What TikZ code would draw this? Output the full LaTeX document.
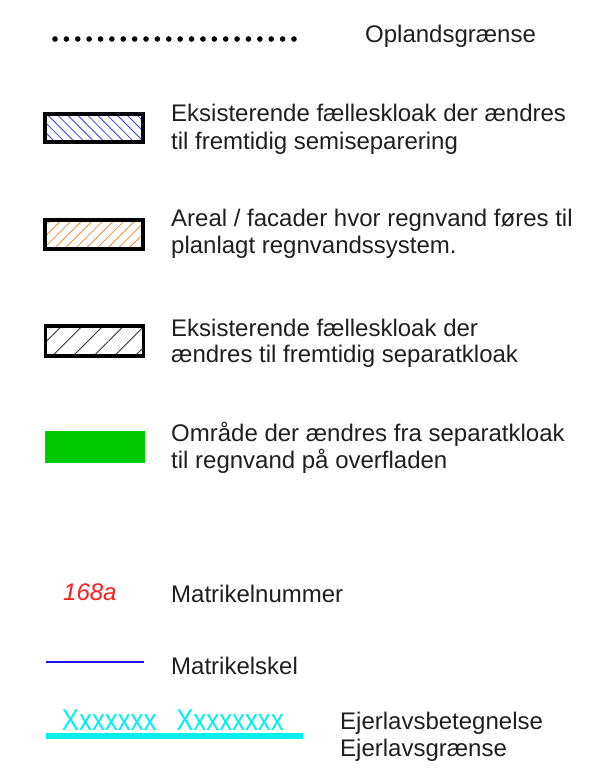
\documentclass[tikz,border=0pt]{standalone}
\usepackage{fontspec}
\setmainfont{Liberation Sans}
\usetikzlibrary{patterns.meta}
\definecolor{hatchblue}{RGB}{60,60,230}
\definecolor{hatchorange}{RGB}{245,140,50}
\definecolor{areagreen}{RGB}{0,204,0}
\definecolor{ejercyan}{RGB}{0,240,240}
\definecolor{numred}{RGB}{250,30,30}
\definecolor{matblue}{RGB}{25,25,235}
\begin{document}
\begin{tikzpicture}[x=1pt,y=-1pt,
  legtext/.style={anchor=base west,inner sep=0pt,font=\fontsize{24}{28}\selectfont,text=black!88},
  legbox/.style={draw=black,line width=4pt},
]
\useasboundingbox[fill=white] (0,0) rectangle (594,780);
% dotted line
\foreach \i in {0,...,21}{
  \fill (55+\i*11.38,39) circle (2.8);
}
\node[legtext] (t0) at (365,42) {Oplandsgrænse};
% box 1
\path[pattern={Lines[angle=-45,distance=7pt,line width=0.8pt]},pattern color=hatchblue] (45,113.7) rectangle (143.3,142.3);
\draw[legbox] (45,113.7) rectangle (143.3,142.3);
\node[legtext] (t1a) at (171,121.7) {Eksisterende fælleskloak der ændres};
\node[legtext] (t1b) at (171,149.2) {til fremtidig semiseparering};
% box 2
\path[pattern={Lines[angle=45,distance=7.5pt,line width=0.8pt]},pattern color=hatchorange] (45,220) rectangle (143.3,249);
\draw[legbox] (45,220) rectangle (143.3,249);
\node[legtext] (t2a) at (171,226) {Areal / facader hvor regnvand føres til};
\node[legtext] (t2b) at (171,253.5) {planlagt regnvandssystem.};
% box 3
\path[pattern={Lines[angle=45,distance=14.6pt,line width=0.9pt]},pattern color=black!80] (45.5,326) rectangle (143.5,356);
\draw[draw=black,line width=3.3pt] (45.5,326) rectangle (143.5,356);
\node[legtext] (t3a) at (171,336.7) {Eksisterende fælleskloak der};
\node[legtext] (t3b) at (171,362.5) {ændres til fremtidig separatkloak};
% green
\fill[areagreen] (45,431) rectangle (145,463);
\node[legtext] (t4a) at (171,441.7) {Område der ændres fra separatkloak};
\node[legtext] (t4b) at (171,468.5) {til regnvand på overfladen};
% matrikelnummer
\node[anchor=base west,inner sep=0pt,text=numred,font=\fontsize{24}{24}\selectfont\itshape] (n168) at (63,600.7) {168a};
\node[legtext] (t5) at (171,602.3) {Matrikelnummer};
% matrikelskel
\draw[draw=matblue,line width=1.7pt] (46,661.7) -- (144,661.7);
\node[legtext] (t6) at (171,674.3) {Matrikelskel};
% ejerlav
\node[anchor=base west,inner sep=0pt,text=ejercyan,font=\fontsize{30}{30}\selectfont] (nx) at (61.7,730) {\scalebox{0.86}[1]{Xxxxxxx\hspace{23pt}Xxxxxxxx}};
\draw[ejercyan,line width=5.5pt] (45.7,736) -- (302.7,736);
\node[legtext] (t7a) at (340,729.3) {Ejerlavsbetegnelse};
\node[legtext] (t7b) at (340,756.7) {Ejerlavsgrænse};
\end{tikzpicture}
\end{document}
